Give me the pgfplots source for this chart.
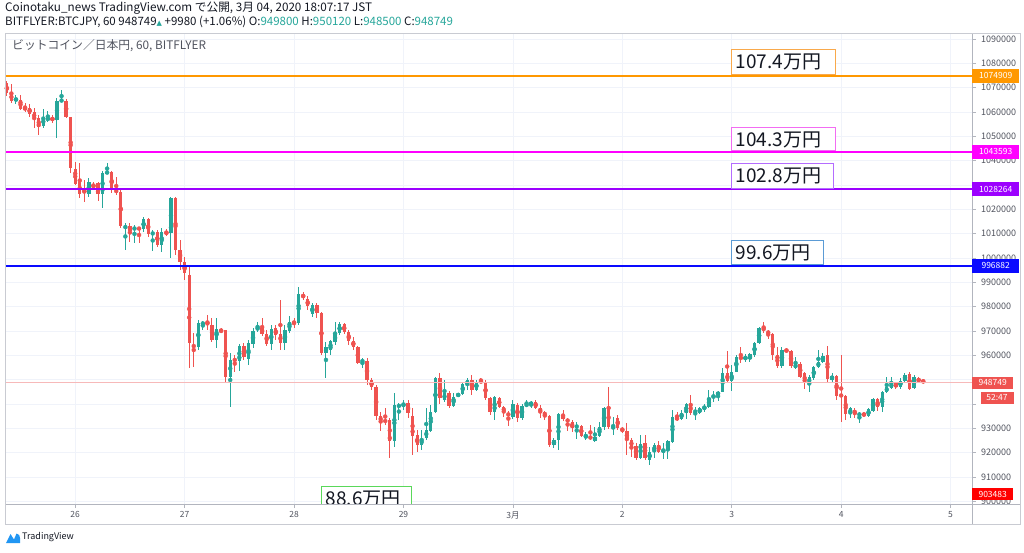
\documentclass[border=0pt]{standalone}
\usepackage{fontspec}
\setmainfont{Noto Sans CJK JP}
\newfontfamily\dejavu{DejaVu Sans}
\usepackage{pgfplots}
\usepackage{pgfplotstable}
\pgfplotsset{compat=1.18}
\definecolor{upc}{HTML}{26A69A}
\definecolor{dnc}{HTML}{EF5350}
\definecolor{gridc}{HTML}{F0F3FA}
\definecolor{framec}{HTML}{B2B5BE}
\definecolor{labc}{HTML}{50535E}
\definecolor{txtc}{HTML}{131722}
\definecolor{levo}{HTML}{FF9800}
\definecolor{levm}{HTML}{FF00FF}
\definecolor{levp}{HTML}{9C00FF}
\definecolor{levb}{HTML}{0A0AFF}
\definecolor{curc}{HTML}{F7B9B9}
\definecolor{borange}{HTML}{F9A94B}
\definecolor{bmag}{HTML}{F26CF2}
\definecolor{bpur}{HTML}{B46CFF}
\definecolor{bblue}{HTML}{5B9BD5}
\definecolor{bgreen}{HTML}{5AD85A}
\definecolor{tvblue}{HTML}{2196F3}

\pgfplotstableread{
t o h l c
-15 1071900 1072700 1066600 1067800
-14 1067800 1071500 1063700 1064500
-13 1064500 1067000 1063300 1065800
-12 1064900 1067000 1060800 1061200
-11 1061600 1063700 1060000 1061200
-10 1061600 1063300 1057900 1059200
-9 1060000 1061600 1053400 1057100
-8 1057500 1058800 1050500 1053800
-7 1054200 1061200 1053400 1057900
-6 1056700 1060400 1055900 1057500
-5 1057500 1058800 1055500 1056700
-4 1056700 1065800 1049300 1064500
-3 1064500 1069000 1064100 1064900
-2 1064500 1065300 1057500 1057900
-1 1057900 1057900 1034900 1037000
0 1036600 1039400 1030000 1030400
1 1031200 1039000 1024700 1026300
2 1027900 1032000 1023000 1026700
3 1026300 1032900 1025100 1031200
4 1030400 1031200 1027900 1029200
5 1030800 1031200 1023400 1026300
6 1026300 1035700 1020500 1034900
7 1034900 1039000 1034500 1035300
8 1035300 1035700 1026700 1027900
9 1027900 1033300 1025900 1027100
10 1027100 1027900 1012300 1013100
11 1012300 1014400 1003300 1013100
12 1013100 1014400 1006600 1011100
13 1011500 1013600 1006200 1012700
14 1012300 1012700 1006200 1011900
15 1011900 1016800 1010700 1016000
16 1016000 1016400 1008600 1009900
17 1009900 1011500 1002900 1010300
18 1010700 1011500 1004500 1005300
19 1005300 1012300 1002500 1010700
20 1010700 1011900 1009000 1009900
21 1010300 1025100 1000000 1024700
22 1024700 1025100 1001200 1003300
23 1003300 1007400 995100 998300
24 998300 1000400 990900 993800
25 993000 996300 954800 965100
26 964200 969200 955200 963400
27 963400 974500 962200 973300
28 972900 974100 970400 973300
29 973700 976600 970400 972500
30 972500 975300 965500 966300
31 966300 975300 963000 970800
32 970400 971200 969200 969600
33 970400 970400 949000 951100
34 951100 960900 938800 958100
35 958500 960100 953100 957700
36 957700 964600 953500 963800
37 963800 965100 958100 959300
38 958500 966300 956000 965100
39 964600 971200 963000 970000
40 970800 973700 969600 971200
41 971200 975300 967900 968800
42 968800 970400 963800 964600
43 964600 972500 962200 970800
44 971200 972500 966300 968300
45 968800 982700 962200 965100
46 965100 972500 962200 970400
47 970000 976200 969200 973700
48 973700 975300 971200 973300
49 973300 988100 972500 985200
50 984800 986000 982700 984000
51 983100 984400 978600 980300
52 977000 981500 975700 980700
53 980700 981500 975300 977400
54 977400 977800 960100 960900
55 960900 965500 950700 963400
56 962200 966300 960100 965900
57 965500 973700 964200 968800
58 969200 973700 968300 972900
59 972900 973300 968800 969600
60 969600 970400 964200 965900
61 965900 967500 962200 963400
62 963400 963800 956400 956800
63 957200 958900 954800 958100
64 957700 958900 947800 949800
65 949800 950700 945700 947000
66 947000 947800 933400 935100
67 935100 936700 928900 932600
68 933400 938300 931400 932600
69 933400 934200 917800 924800
70 924800 944500 922300 939600
71 938800 940400 933400 939600
72 939200 941600 937500 940400
73 940400 941600 934200 936300
74 935100 938300 919000 926800
75 927200 929300 920300 923100
76 923100 929300 921100 925600
77 926000 938300 925200 929300
78 928900 939600 928500 936700
79 936700 951100 936300 950700
80 950700 952700 940000 942500
81 941600 949800 940800 944500
82 944500 945300 938300 939200
83 939200 944500 938800 942900
84 943300 944500 942900 944100
85 944100 949000 943700 948200
86 947800 950700 945700 949800
87 949800 951900 943700 945700
88 945700 949800 945300 949000
89 949400 950700 948600 949000
90 948600 949800 941600 942500
91 942500 942900 935500 936700
92 936700 943300 933400 942900
93 942500 942900 938300 938800
94 938800 939200 934600 936700
95 936300 937100 930900 935100
96 934600 941600 933800 940000
97 939600 940400 932600 934200
98 934200 940000 933400 939200
99 939200 941600 938800 940000
100 939600 941200 938300 940800
101 940800 941600 937900 938300
102 938300 939600 934200 936700
103 936700 937100 933400 935100
104 935100 935500 922300 923100
105 923100 926000 921900 925200
106 925200 936300 921100 935900
107 935500 937500 933000 933800
108 933800 934200 928900 932600
109 932600 933400 928500 930100
110 930100 932600 925600 931400
111 930900 931400 926400 926800
112 926400 928500 925200 926800
113 926800 931400 925200 925600
114 924800 930500 924400 926400
115 926800 932600 926400 930500
116 930500 938800 929300 938300
117 938300 947000 929700 930500
118 930100 934600 927200 930500
119 934200 935500 929300 930100
120 930100 930500 928100 928900
121 928900 932200 919000 925200
122 925200 926000 918200 922300
123 922700 924000 917000 917800
124 917800 927200 917400 923500
125 924000 927200 917000 917800
126 917000 922300 914900 920300
127 920300 924000 917800 923100
128 923100 924800 919800 920300
129 920300 924000 917400 921500
130 921500 925200 917400 924800
131 924400 937500 924000 934600
132 934600 936700 933000 933400
133 933800 937500 933400 936300
134 936300 940400 933800 940000
135 940000 943700 935500 936300
136 936700 938800 933400 937100
137 936300 938800 935900 938300
138 937900 940000 936700 939200
139 938800 945700 938300 942500
140 942500 945300 940800 943700
141 943700 945300 941200 944900
142 944900 954800 944900 952700
143 952700 961800 949000 949400
144 949400 956000 945300 953100
145 953100 960100 953100 959300
146 959300 963400 956800 958500
147 958500 960500 957200 959300
148 958500 960900 957200 960500
149 960100 965500 959300 965100
150 965100 971600 964600 971200
151 971200 973700 969200 970400
152 970000 970400 966700 968800
153 968800 969200 958100 960100
154 960100 963400 954800 955600
155 955600 963400 954800 962200
156 962600 963000 960900 961400
157 961800 962200 954800 955600
158 954800 959300 954400 956400
159 956400 957200 950700 951100
160 952700 953100 946200 948600
161 948200 951900 944900 951100
162 950700 955600 949800 955200
163 955200 962200 954800 957200
164 957200 960900 956800 959700
165 960100 963800 949000 950300
166 949800 952700 949000 951500
167 951500 951900 941600 943300
168 944100 960100 932600 942900
169 943300 943700 933400 935900
170 935900 938800 934200 938300
171 937500 938300 934200 935900
172 935100 936700 932200 936300
173 936300 936700 934600 935100
174 935100 938300 934600 937900
175 937100 942500 936700 942000
176 942000 942500 937100 938800
177 938800 945300 936700 944900
178 944900 951100 944500 947000
179 946600 951100 946200 948600
180 948600 949000 946200 947000
181 947000 950700 946200 949400
182 949400 952700 949000 951900
183 952300 953100 945700 946200
184 946600 951900 946200 951100
185 950700 951100 948600 949000
186 949800 950120 948500 948749
}\candles

\pgfplotstableread{
x y
-16 1074909
197 1074909
}\levA
\pgfplotstableread{
x y
-16 1043593
197 1043593
}\levB
\pgfplotstableread{
x y
-16 1028264
197 1028264
}\levC
\pgfplotstableread{
x y
-16 996882
197 996882
}\levD
\pgfplotstableread{
x y
-16 948749
197 948749
}\levE

\begin{document}
\begin{tikzpicture}
\useasboundingbox (0,0) rectangle (1024pt,552pt);
\begin{axis}[
  at={(5pt,48pt)}, anchor=south west,
  scale only axis, width=967pt, height=471pt,
  xmin=-15.4, xmax=196.7, ymin=898885, ymax=1092466,
  xtick={0,24,48,72,96,120,144,168,192},
  xticklabels={26,27,28,29,3月,2,3,4,5},
  ytick={900000,910000,920000,930000,960000,970000,980000,990000,1000000,1010000,1020000,1040000,1050000,1060000,1070000,1080000,1090000},
  extra y ticks={940000,950000,1030000},
  extra y tick labels={},
  extra y tick style={grid=major},
  scaled y ticks=false,
  ytick pos=right, xtick pos=bottom,
  tick align=outside, major tick length=4pt,
  tick style={color=framec, line width=0.6pt},
  yticklabel style={font=\fontsize{9}{9}\selectfont, color=labc, anchor=west, xshift=1.5pt},
  xticklabel style={font=\fontsize{8.5}{9}\selectfont, color=labc},
  yticklabel={\pgfmathprintnumber[fixed,1000 sep={},assume math mode=true]{\tick}},
  axis line style={draw=framec, line width=0.8pt},
  grid=major, grid style={gridc, line width=0.7pt},
  clip mode=individual,
  unbounded coords=discard,
]
% wicks
\addplot[color=upc, only marks, mark=none, forget plot,
  error bars/.cd, y dir=both, y explicit, error mark=none,
  error bar style={line width=1pt, color=upc}]
  table[x expr={\thisrow{c}<\thisrow{o} ? nan : \thisrow{t}},
        y expr={(\thisrow{h}+\thisrow{l})/2},
        y error expr={(\thisrow{h}-\thisrow{l})/2}] {\candles};
\addplot[color=dnc, only marks, mark=none, forget plot,
  error bars/.cd, y dir=both, y explicit, error mark=none,
  error bar style={line width=1pt, color=dnc}]
  table[x expr={\thisrow{c}<\thisrow{o} ? \thisrow{t} : nan},
        y expr={(\thisrow{h}+\thisrow{l})/2},
        y error expr={(\thisrow{h}-\thisrow{l})/2}] {\candles};
% bodies
\addplot[color=upc, only marks, mark=none, forget plot,
  error bars/.cd, y dir=both, y explicit, error mark=none,
  error bar style={line width=3.3pt, color=upc, line cap=butt}]
  table[x expr={\thisrow{c}<\thisrow{o} ? nan : \thisrow{t}},
        y expr={(\thisrow{o}+\thisrow{c})/2},
        y error expr={max(abs(\thisrow{c}-\thisrow{o})/2,220)}] {\candles};
\addplot[color=dnc, only marks, mark=none, forget plot,
  error bars/.cd, y dir=both, y explicit, error mark=none,
  error bar style={line width=3.3pt, color=dnc, line cap=butt}]
  table[x expr={\thisrow{c}<\thisrow{o} ? \thisrow{t} : nan},
        y expr={(\thisrow{o}+\thisrow{c})/2},
        y error expr={max(abs(\thisrow{c}-\thisrow{o})/2,220)}] {\candles};
% horizontal levels
\addplot[color=curc, solid, line width=0.9pt, mark=none, forget plot] table[x=x,y=y] {\levE};
\addplot[color=levm, solid, line width=2pt, mark=none, forget plot] table[x=x,y=y] {\levB};
\addplot[color=levo, solid, line width=2pt, mark=none, forget plot] table[x=x,y=y] {\levA};
\addplot[color=levb, solid, line width=2pt, mark=none, forget plot] table[x=x,y=y] {\levD};
\addplot[color=levp, solid, line width=2pt, mark=none, forget plot] table[x=x,y=y] {\levC};
\end{axis}

\begin{scope}[x=1pt,y=-1pt,yshift=552pt]
  % outer frame
  \draw[framec!70, line width=0.8pt] (5,33) rectangle (1020,524);
  \draw[framec, line width=0.8pt] (972,504) -- (1020,504);
  \draw[framec, line width=0.8pt] (972,504) -- (972,524);
  % header
  \node[anchor=west, inner sep=0, font=\fontsize{11.7}{12}\selectfont, text=txtc] at (5,8.5)
    {Coinotaku\_news TradingView.com で公開, 3月 04, 2020 18:07:17 JST};
  \node[anchor=west, inner sep=0, font=\fontsize{11.5}{12}\selectfont, text=txtc] at (5,21.5)
    {BITFLYER:BTCJPY, 60 948749{\color{upc}\dejavu\fontsize{7}{7}\selectfont ▲} +9980 (+1.06\%) O:{\color{upc}949800} H:{\color{upc}950120} L:{\color{upc}948500} C:{\color{upc}948749}};
  \node[anchor=west, inner sep=0, font=\fontsize{11.8}{12}\selectfont, text=labc] at (12,46)
    {ビットコイン／日本円, 60, BITFLYER};
  % annotation boxes
  \draw[borange, fill=white, line width=0.9pt] (731,49) rectangle (835,74);
  \node[anchor=west, inner sep=0, font=\fontsize{19}{19}\selectfont, text=txtc] at (735.5,62) {107.4万円};
  \draw[bmag, fill=white, line width=0.9pt] (731,127) rectangle (835,150.5);
  \node[anchor=west, inner sep=0, font=\fontsize{19}{19}\selectfont, text=txtc] at (735.5,139.5) {104.3万円};
  \draw[bpur, fill=white, line width=0.9pt] (731,163) rectangle (833,188);
  \node[anchor=west, inner sep=0, font=\fontsize{19}{19}\selectfont, text=txtc] at (735.5,176) {102.8万円};
  \draw[bblue, fill=white, line width=0.9pt] (731,240) rectangle (823,264);
  \node[anchor=west, inner sep=0, font=\fontsize{19}{19}\selectfont, text=txtc] at (735.5,252.5) {99.6万円};
  \begin{scope}
    \clip (5,33) rectangle (971.5,503.6);
    \draw[bgreen, fill=white, line width=0.9pt] (321,486) rectangle (411,512);
    \node[anchor=west, inner sep=0, font=\fontsize{19}{19}\selectfont, text=txtc] at (325.5,499) {88.6万円};
  \end{scope}
  % price labels on axis
  \node[anchor=west, fill=levo, text=white, inner sep=0, minimum width=47pt, minimum height=14pt, font=\fontsize{8.5}{9}\selectfont] at (972,75.7) {1074909};
  \node[anchor=west, fill=levm, text=white, inner sep=0, minimum width=47pt, minimum height=14pt, font=\fontsize{8.5}{9}\selectfont] at (972,151.9) {1043593};
  \node[anchor=west, fill=levp, text=white, inner sep=0, minimum width=47pt, minimum height=14pt, font=\fontsize{8.5}{9}\selectfont] at (972,189.2) {1028264};
  \node[anchor=west, fill=levb, text=white, inner sep=0, minimum width=47pt, minimum height=14pt, font=\fontsize{8.5}{9}\selectfont] at (972,265.6) {996882};
  \node[anchor=west, fill=dnc, text=white, inner sep=0, minimum width=41pt, minimum height=12pt, font=\fontsize{8.5}{9}\selectfont] at (972,382.7) {948749};
  \node[fill=dnc, text=white, inner sep=0, minimum width=33pt, minimum height=12pt, font=\fontsize{8.5}{9}\selectfont] at (997,397.5) {52:47};
  \node[anchor=west, fill=red, text=white, inner sep=0, minimum width=41pt, minimum height=12pt, font=\fontsize{8.5}{9}\selectfont] at (972,494) {903483};
  % TradingView logo
  \fill[tvblue] (6,543) -- (10.5,534) -- (14,539.5) -- (16.5,533.5) .. controls (19,533.5) and (20,536) .. (20,538) -- (20,543) -- cycle;
  \node[anchor=west, inner sep=0, font=\fontsize{9}{9}\selectfont, text=txtc] at (22,537.5) {TradingView};
\end{scope}
\end{tikzpicture}
\end{document}
